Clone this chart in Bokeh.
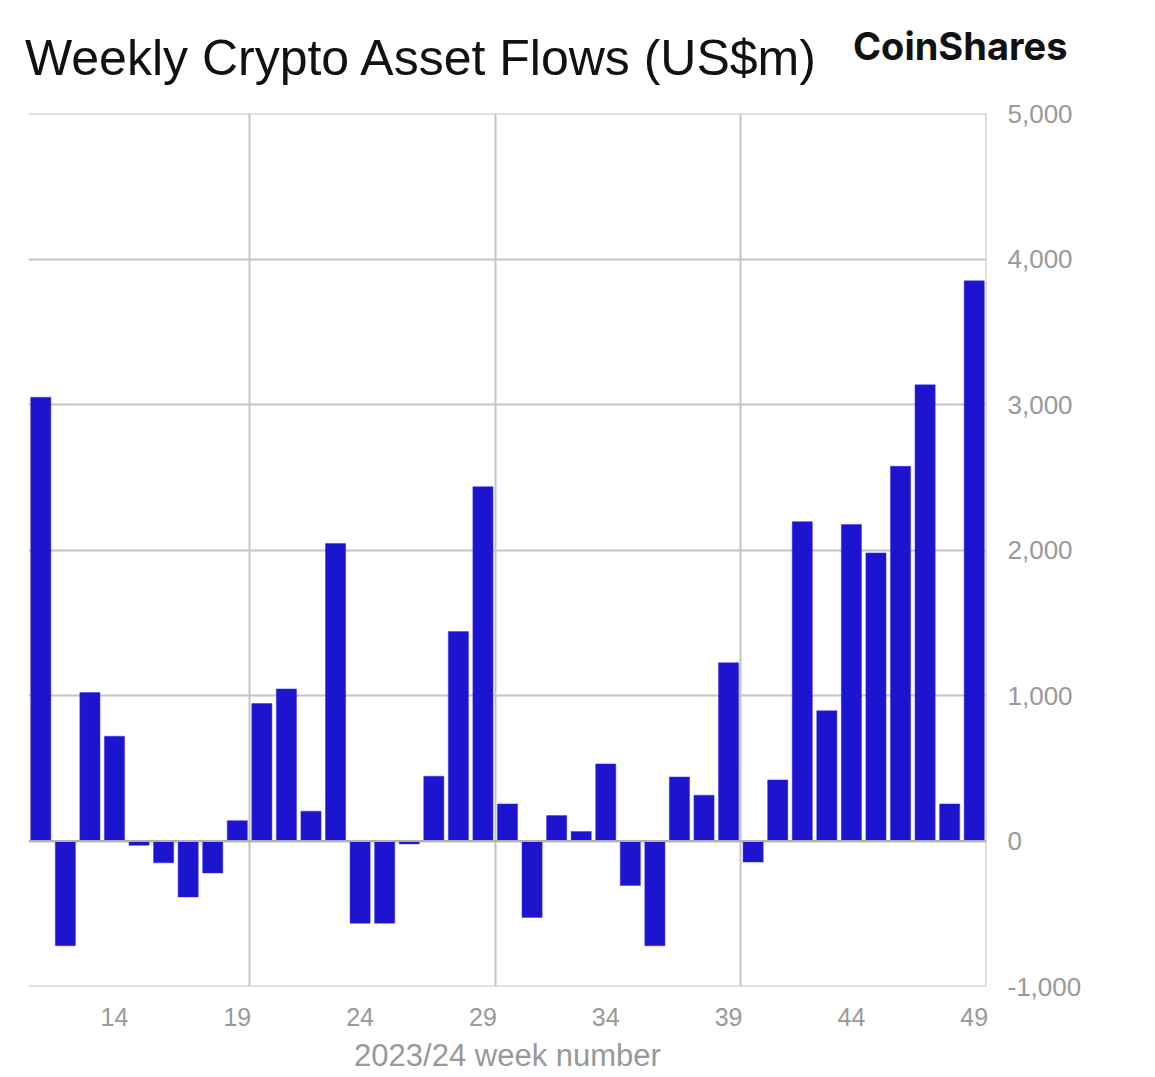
from bokeh.plotting import figure
from bokeh.models import (ColumnDataSource, Range1d, FixedTicker,
                          NumeralTickFormatter, Span, Div)
from bokeh.layouts import column
from bokeh.embed import file_html
from bokeh.resources import INLINE

weeks = list(range(11, 50))
flows = [3050, -720, 1020, 720, -30, -150, -385, -220, 140, 945,
         1045, 205, 2045, -565, -565, -20, 445, 1440, 2435, 255,
         -525, 175, 65, 530, -305, -720, 440, 315, 1225, -145,
         420, 2195, 895, 2175, 1980, 2575, 3135, 255, 3850]
x_tick_labels = [14, 19, 24, 29, 34, 39, 44, 49]
x_grid_lines = [19.5, 29.5, 39.5]
y_ticks = [-1000, 0, 1000, 2000, 3000, 4000, 5000]
X_MIN, X_MAX = 10.5, 49.5
Y_MIN, Y_MAX = -1000, 5000
title_text = "Weekly Crypto Asset Flows (US$m)"
logo_text = "CoinShares"

src = ColumnDataSource(dict(week=weeks, flow=flows))

grid_color = "#c4c4c4"

head_html = (
    '<div style="position:relative;width:1140px;height:100px;margin:0;padding:0;">'
    '<span style="position:absolute;left:25px;top:33px;font-family:\'Liberation Sans\';'
    'font-size:50px;line-height:1;color:#111111;white-space:nowrap;">'
    + title_text + '</span>'
    '<span style="position:absolute;left:853px;top:27px;font-family:Inter;font-weight:bold;'
    'font-size:38px;line-height:1;color:#111111;white-space:nowrap;">'
    + logo_text + '</span></div>'
)
head = Div(text=head_html, width=1140, height=100, margin=0)

p = figure(frame_width=958, frame_height=873, output_backend="svg",
           toolbar_location=None, x_range=Range1d(X_MIN, X_MAX),
           y_range=Range1d(Y_MIN, Y_MAX), y_axis_location="right",
           min_border_left=28, min_border_top=13, min_border_right=5,
           min_border_bottom=0, align="start")
p.outline_line_color = None

p.vbar(x="week", top="flow", bottom=0, width=0.82, source=src,
       fill_color="#1d14d0", line_color="#3a32e0", line_width=0.5)

p.add_layout(Span(location=0, dimension="width", line_color="#b0b0b0", line_width=2))
p.add_layout(Span(location=Y_MAX, dimension="width", line_color=grid_color, line_width=2))
p.add_layout(Span(location=Y_MIN, dimension="width", line_color=grid_color, line_width=2))
p.add_layout(Span(location=X_MAX, dimension="height", line_color=grid_color, line_width=2))

p.xgrid.ticker = FixedTicker(ticks=x_grid_lines)
p.ygrid.ticker = FixedTicker(ticks=y_ticks)
for g in (p.xgrid, p.ygrid):
    g.grid_line_color = grid_color
    g.grid_line_width = 2

xa = p.xaxis[0]
xa.ticker = FixedTicker(ticks=x_tick_labels)
xa.axis_line_color = None
xa.major_tick_line_color = None
xa.minor_tick_line_color = None
xa.major_label_text_font = "Liberation Sans"
xa.major_label_text_font_size = "25px"
xa.major_label_text_color = "#999999"
xa.major_label_standoff = 15
xa.axis_label = "2023/24 week number"
xa.axis_label_text_font = "Liberation Sans"
xa.axis_label_text_font_size = "31px"
xa.axis_label_text_font_style = "normal"
xa.axis_label_text_color = "#999999"
xa.axis_label_standoff = 9

ya = p.yaxis[0]
ya.ticker = FixedTicker(ticks=y_ticks)
ya.formatter = NumeralTickFormatter(format="0,0")
ya.axis_line_color = None
ya.major_tick_line_color = None
ya.minor_tick_line_color = None
ya.major_label_text_font = "Liberation Sans"
ya.major_label_text_font_size = "26px"
ya.major_label_text_color = "#999999"
ya.major_label_standoff = 15

layout = column(head, p, spacing=0)
open("out.html", "w").write(file_html(layout, INLINE))
